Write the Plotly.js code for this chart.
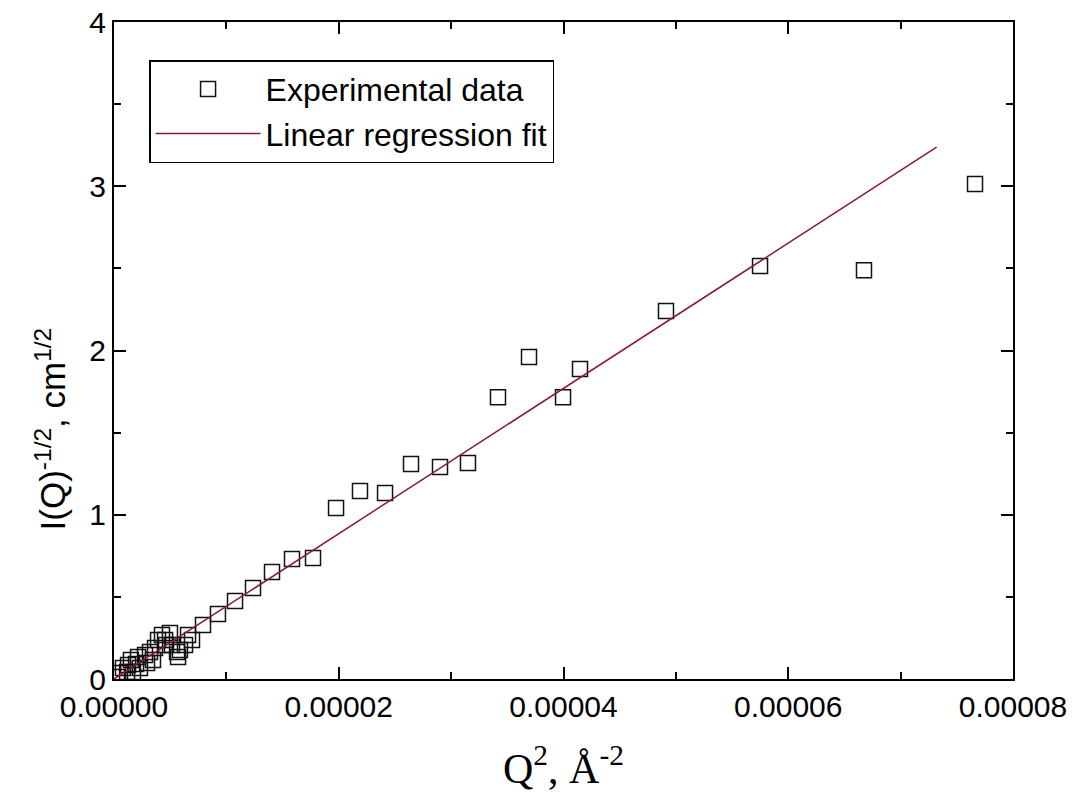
<!DOCTYPE html>
<html>
<head>
<meta charset="utf-8">
<script src="https://cdn.plot.ly/plotly-3.0.1.min.js"></script>
<style>html,body{margin:0;padding:0;background:#fff;}#chart{width:1074px;height:792px;}</style>
</head>
<body>
<div id="chart"></div>
<script>
// Experimental data: Q^2 (Å^-2) and I(Q)^-1/2 (cm^1/2)
var expQ2 = [
  0.27e-6, 0.53e-6, 0.80e-6, 1.16e-6, 1.25e-6, 1.51e-6, 1.69e-6, 1.96e-6, 2.14e-6, 2.31e-6,
  2.76e-6, 2.94e-6, 3.20e-6, 3.47e-6, 3.65e-6, 3.92e-6, 4.27e-6, 4.54e-6, 4.63e-6, 4.98e-6,
  5.16e-6, 5.61e-6, 5.70e-6, 5.87e-6, 6.32e-6, 6.59e-6, 6.94e-6, 7.92e-6, 9.25e-6, 1.077e-5,
  1.237e-5, 1.406e-5, 1.584e-5, 1.771e-5, 1.976e-5, 2.189e-5, 2.412e-5, 2.643e-5, 2.901e-5, 3.150e-5,
  3.417e-5, 3.693e-5, 3.996e-5, 4.147e-5, 4.912e-5, 5.749e-5, 6.674e-5, 7.662e-5
];
var expI = [
  0.012, 0.037, 0.067, 0.043, 0.085, 0.116, 0.043, 0.091, 0.134, 0.067,
  0.146, 0.097, 0.164, 0.116, 0.189, 0.237, 0.268, 0.237, 0.207, 0.280,
  0.207, 0.164, 0.134, 0.177, 0.207, 0.268, 0.237, 0.329, 0.396, 0.475,
  0.554, 0.651, 0.730, 0.736, 1.041, 1.144, 1.132, 1.309, 1.290, 1.315,
  1.716, 1.960, 1.716, 1.887, 2.240, 2.514, 2.489, 3.013
];
// Linear regression fit line end points
var fitQ2 = [0, 7.32e-5];
var fitI = [0, 3.238];

var xTickVals = [0, 0.00002, 0.00004, 0.00006, 0.00008];
var yTickVals = [0, 1, 2, 3, 4];

var traces = [
  {
    x: expQ2, y: expI, type: 'scatter', mode: 'markers', name: 'Experimental data',
    marker: {symbol: 'square-open', size: 15, color: '#111', line: {width: 1.5, color: '#111'}}
  },
  {
    x: fitQ2, y: fitI, type: 'scatter', mode: 'lines', name: 'Linear regression fit',
    line: {color: '#8a1b2e', width: 1.5}
  }
];

var tickFont = {family: 'Liberation Sans, Arial, sans-serif', size: 30, color: '#000'};

var axisCommon = {
  showline: true, linecolor: '#000', linewidth: 2, mirror: 'allticks',
  ticks: 'inside', ticklen: 12, tickwidth: 2, tickcolor: '#000',
  showgrid: false, zeroline: false,
  tickfont: tickFont
};

var layout = {
  width: 1074, height: 792,
  paper_bgcolor: '#fff', plot_bgcolor: '#fff',
  margin: {l: 114, r: 61, t: 22, b: 113},
  showlegend: true,
  xaxis: Object.assign({}, axisCommon, {
    range: [0, 0.00008], tickvals: xTickVals, tickformat: '.5f',
    minor: {dtick: 0.00001, tick0: 0, ticks: 'inside', ticklen: 7, tickwidth: 2, tickcolor: '#000'}
  }),
  yaxis: Object.assign({}, axisCommon, {
    range: [0, 4], tickvals: yTickVals,
    minor: {dtick: 0.5, tick0: 0, ticks: 'inside', ticklen: 7, tickwidth: 2, tickcolor: '#000'}
  }),
  legend: {
    x: 0.039, y: 0.942, xanchor: 'left', yanchor: 'top',
    bgcolor: '#fff', bordercolor: '#000', borderwidth: 1.5,
    font: {family: 'Liberation Sans, Arial, sans-serif', size: 32, color: '#000'},
    itemwidth: 105, tracegroupgap: 0
  },
  annotations: [
    {
      xref: 'paper', yref: 'paper', x: -0.07, y: 0.38, xanchor: 'center', yanchor: 'middle',
      textangle: -90, showarrow: false,
      text: 'I(Q)<sup>-1/2</sup>, cm<sup>1/2</sup>',
      font: {family: 'Liberation Sans, Arial, sans-serif', size: 35, color: '#000'}
    },
    {
      xref: 'paper', yref: 'paper', x: 0.5, y: -0.131, xanchor: 'center', yanchor: 'middle',
      showarrow: false,
      text: 'Q<sup>2</sup>, Å<sup>-2</sup>',
      font: {family: 'Liberation Serif, Times New Roman, serif', size: 42, color: '#000'}
    }
  ]
};

Plotly.newPlot('chart', traces, layout, {displayModeBar: false, staticPlot: true});
</script>
</body>
</html>
